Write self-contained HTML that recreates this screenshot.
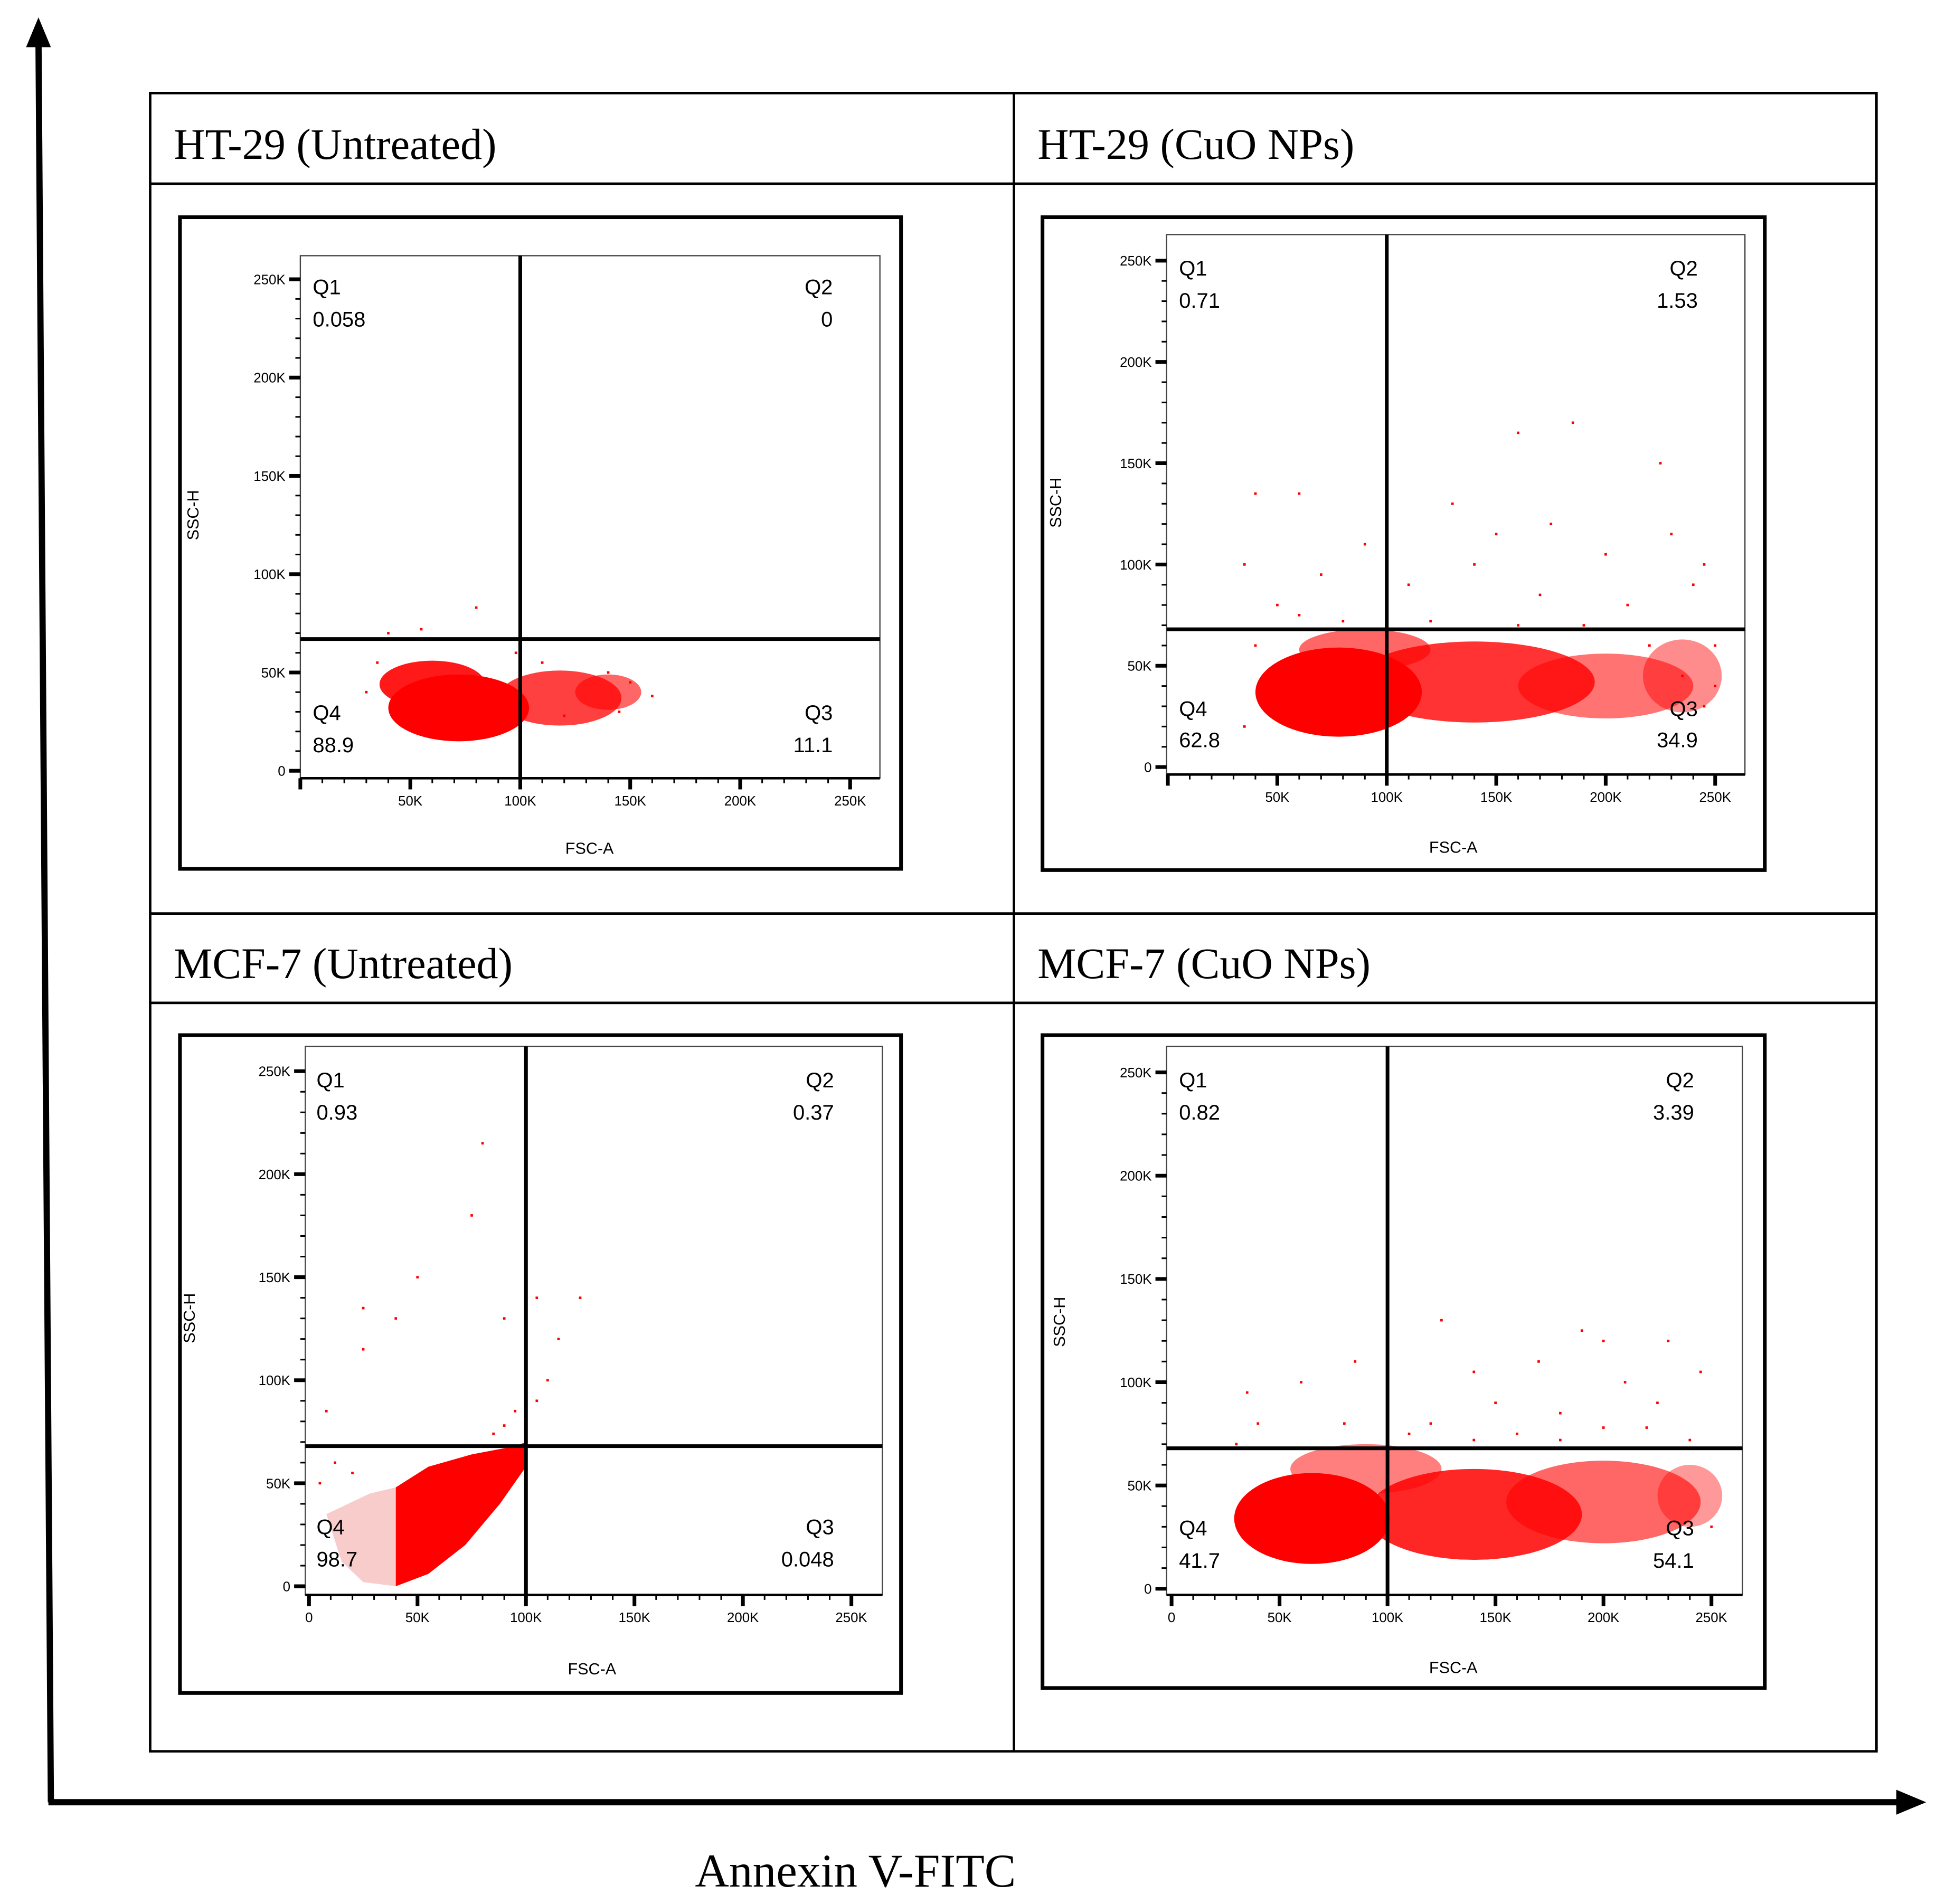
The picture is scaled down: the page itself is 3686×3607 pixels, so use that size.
<!DOCTYPE html>
<html><head><meta charset="utf-8"><style>
html,body{margin:0;padding:0;background:#fff;}
svg{display:block;}
</style></head><body>
<svg id="fig" xmlns="http://www.w3.org/2000/svg" width="3686" height="3607" viewBox="0 0 1568 1534" preserveAspectRatio="none">
<rect x="0" y="0" width="1568" height="1534" fill="#fff"/>
<g fill="none" stroke="#000" stroke-width="2">
<rect x="121" y="75" width="1391" height="1336"/>
<line x1="817" y1="75" x2="817" y2="1411"/>
<line x1="121" y1="148" x2="1512" y2="148"/>
<line x1="121" y1="736" x2="1512" y2="736"/>
<line x1="121" y1="808" x2="1512" y2="808"/>
</g>
<g font-family="Liberation Serif, serif" font-size="35" fill="#000">
<text x="140" y="128">HT-29 (Untreated)</text>
<text x="836" y="128">HT-29 (CuO NPs)</text>
<text x="140" y="788">MCF-7 (Untreated)</text>
<text x="836" y="788">MCF-7 (CuO NPs)</text>
<text x="560" y="1520" font-size="38">Annexin V-FITC</text>
</g>
<g>
<line x1="41" y1="1452" x2="31" y2="30" stroke="#000" stroke-width="5"/>
<polygon points="31,14 21,38 41,38" fill="#000"/>
</g>
<g>
<line x1="39" y1="1452" x2="1535" y2="1452" stroke="#000" stroke-width="5"/>
<polygon points="1552,1452 1528,1442 1528,1462" fill="#000"/>
</g>
<g id="panels"></g>
</svg>
<script>
// ---- data (values in K units: FSC-A, SSC-H) ----
const quadLabels1 = ["0.058","0","11.1","88.9"];
const quadLabels2 = ["0.71","1.53","34.9","62.8"];
const quadLabels3 = ["0.93","0.37","0.048","98.7"];
const quadLabels4 = ["0.82","3.39","54.1","41.7"];
const gateFsc = [100,100,100,100];
const gateSsc1 = 67, gateSsc2 = 68, gateSsc3 = 68, gateSsc4 = 68;
const yTicks = [0,50,100,150,200,250];
const yTickLabels = ["0","50K","100K","150K","200K","250K"];
const xTicks = [0,50,100,150,200,250];
const xTickLabels = ["0","50K","100K","150K","200K","250K"];
// clusters: [fscCenter, sscCenter, fscHalfWidth, sscHalfHeight, opacity]
const clusters1 = [[72,32,32,17,1],[60,44,24,12,0.9],[118,37,28,14,0.75],[140,40,15,9,0.6]];
const clusters2 = [[78,37,38,22,1],[140,42,55,20,0.8],[200,40,40,16,0.55],[235,45,18,18,0.45],[90,58,30,10,0.6]];
const clusters4 = [[65,34,36,22,1],[140,36,50,22,0.85],[200,42,45,20,0.6],[240,45,15,15,0.4],[90,58,35,12,0.5]];
const pink3 = [[8,35],[15,12],[25,2],[40,0],[40,48],[28,45]];
const blob3 = [[40,0],[40,48],[55,58],[75,64],[95,68],[100,70],[100,58],[88,40],[72,20],[55,6]];
// sparse points [fsc, ssc]
const sparse1 = [[80,83],[40,70],[55,72],[150,45],[160,38],[30,40],[110,55],[140,50],[35,55],[145,30],[120,28],[98,60]];
const sparse2 = [[160,165],[185,170],[225,150],[130,130],[40,135],[60,135],[90,110],[150,115],[175,120],[200,105],[230,115],[245,100],[35,100],[70,95],[110,90],[140,100],[170,85],[210,80],[240,90],[50,80],[100,75],[190,70],[250,60],[220,60],[235,45],[60,75],[80,72],[120,72],[160,70],[250,40],[245,30],[35,20],[40,60]];
const sparse3 = [[80,215],[75,180],[50,150],[25,135],[40,130],[25,115],[90,130],[105,140],[125,140],[115,120],[110,100],[105,90],[8,85],[12,60],[5,50],[20,55],[95,85],[90,78],[85,74]];
const sparse4 = [[125,130],[190,125],[200,120],[230,120],[85,110],[140,105],[170,110],[210,100],[245,105],[35,95],[60,100],[100,95],[150,90],[180,85],[225,90],[40,80],[80,80],[120,80],[160,75],[200,78],[240,72],[30,70],[110,75],[140,72],[180,72],[220,78],[250,30]];

const panels = [
 {name:"ht29-untreated", box:[145,175,581,525], plot:[242,206,467,421], x0:242, x250:685, y0:621, y250:225, gs:gateSsc1, q:quadLabels1, cl:clusters1, sp:sparse1, xt0:false, ylab:[160,415], xlab:[475,688], qy:[231,257,574,600], qx:[252,671]},
 {name:"ht29-cuo", box:[840,175,582,526], plot:[940,189,466,435], x0:941, x250:1382, y0:618, y250:210, gs:gateSsc2, q:quadLabels2, cl:clusters2, sp:sparse2, xt0:false, ylab:[855,405], xlab:[1171,687], qy:[216,242,571,596], qx:[950,1368]},
 {name:"mcf7-untreated", box:[145,834,581,530], plot:[246,843,465,442], x0:249, x250:686, y0:1278, y250:863, gs:gateSsc3, q:quadLabels3, cl:[], sp:sparse3, xt0:true, ylab:[157,1062], xlab:[477,1349], qy:[870,896,1230,1256], qx:[255,672], special:true},
 {name:"mcf7-cuo", box:[840,834,582,526], plot:[940,843,464,442], x0:944, x250:1379, y0:1280, y250:864, gs:gateSsc4, q:quadLabels4, cl:clusters4, sp:sparse4, xt0:true, ylab:[858,1065], xlab:[1171,1348], qy:[870,896,1231,1257], qx:[950,1365]}
];
const NS="http://www.w3.org/2000/svg";
function mk(tag, attrs, parent){const e=document.createElementNS(NS,tag);for(const k in attrs)e.setAttribute(k,attrs[k]);parent.appendChild(e);return e;}
const root=document.getElementById('panels');
panels.forEach((p,pi)=>{
 const g=mk('g',{},root);
 
 
 const X=v=>p.x0+(p.x250-p.x0)*v/250;
 const Y=v=>p.y0-(p.y0-p.y250)*v/250;
 const box=mk('rect',{x:p.box[0],y:p.box[1],width:p.box[2],height:p.box[3],fill:'#fff',stroke:'#000','stroke-width':3},g);
 
 
 const pa=mk('rect',{x:p.plot[0],y:p.plot[1],width:p.plot[2],height:p.plot[3],fill:'#fff',stroke:'#444','stroke-width':1},g);
 
 
 const dg=mk('g',{},g);
 
 
 if(p.special){
  const pk=mk('polygon',{points:pink3.map(d=>X(d[0])+','+Y(d[1])).join(' '),fill:'#f9cccc'},dg);
  
  
  const bl=mk('polygon',{points:blob3.map(d=>X(d[0])+','+Y(d[1])).join(' '),fill:'#ff0000'},dg);
  
  
 }
 p.cl.forEach(c=>{
  const e=mk('ellipse',{cx:X(c[0]),cy:Y(c[1]),rx:Math.abs(X(c[2])-X(0)),ry:Math.abs(Y(0)-Y(c[3])),fill:'#ff0000','fill-opacity':c[4]},dg);
  
  
 });
 p.sp.forEach(d=>{
  const c=mk('rect',{x:X(d[0])-1,y:Y(d[1])-1,width:2,height:2,fill:'#ff0000'},dg);
  
  
 });
 const ax=mk('g',{stroke:'#000'},g);
 
 
 for(let v=0;v<=250;v+=10){
  const maj=v%50===0;
  mk('line',{x1:p.plot[0]-(maj?9:4),y1:Y(v),x2:p.plot[0],y2:Y(v),'stroke-width':maj?3:1.3},ax);
  mk('line',{x1:X(v),y1:p.plot[1]+p.plot[3],x2:X(v),y2:p.plot[1]+p.plot[3]+(maj?9:4),'stroke-width':maj?3:1.3},ax);
 }
 mk('line',{x1:p.plot[0],y1:p.plot[1]+p.plot[3],x2:p.plot[0]+p.plot[2],y2:p.plot[1]+p.plot[3],'stroke-width':2},ax);
 yTicks.forEach((v,i)=>{
  const t=mk('text',{x:p.plot[0]-12,y:Y(v)+4,'font-family':'Liberation Sans, sans-serif','font-size':11,'text-anchor':'end',fill:'#000'},g);
  t.textContent=yTickLabels[i];
  
  
 });
 xTicks.forEach((v,i)=>{
  if(v===0&&!p.xt0)return;
  const t=mk('text',{x:X(v),y:p.plot[1]+p.plot[3]+22,'font-family':'Liberation Sans, sans-serif','font-size':11,'text-anchor':'middle',fill:'#000'},g);
  t.textContent=xTickLabels[i];
  
  
 });
 const gv=mk('line',{x1:X(gateFsc[pi]),y1:p.plot[1],x2:X(gateFsc[pi]),y2:p.plot[1]+p.plot[3],stroke:'#000','stroke-width':3},g);
 
 
 const gh=mk('line',{x1:p.plot[0],y1:Y(p.gs),x2:p.plot[0]+p.plot[2],y2:Y(p.gs),stroke:'#000','stroke-width':3},g);
 
 
 const ql=[["Q1",p.qx[0],p.qy[0],'start'],[p.q[0],p.qx[0],p.qy[1],'start'],["Q2",p.qx[1],p.qy[0],'end'],[p.q[1],p.qx[1],p.qy[1],'end'],["Q4",p.qx[0],p.qy[2],'start'],[p.q[3],p.qx[0],p.qy[3],'start'],["Q3",p.qx[1],p.qy[2],'end'],[p.q[2],p.qx[1],p.qy[3],'end']];
 ql.forEach(l=>{
  const t=mk('text',{x:l[1],y:l[2]+6,'font-family':'Liberation Sans, sans-serif','font-size':17,'text-anchor':l[3],fill:'#000'},g);
  t.textContent=l[0];
  
  
 });
 const yl=mk('text',{x:p.ylab[0],y:p.ylab[1],'font-family':'Liberation Sans, sans-serif','font-size':13,'text-anchor':'middle',transform:'rotate(-90 '+p.ylab[0]+' '+p.ylab[1]+')',fill:'#000'},g);
 yl.textContent='SSC-H';
 
 
 const xl=mk('text',{x:p.xlab[0],y:p.xlab[1],'font-family':'Liberation Sans, sans-serif','font-size':13,'text-anchor':'middle',fill:'#000'},g);
 xl.textContent='FSC-A';
 
 
});
</script>
</body></html>
